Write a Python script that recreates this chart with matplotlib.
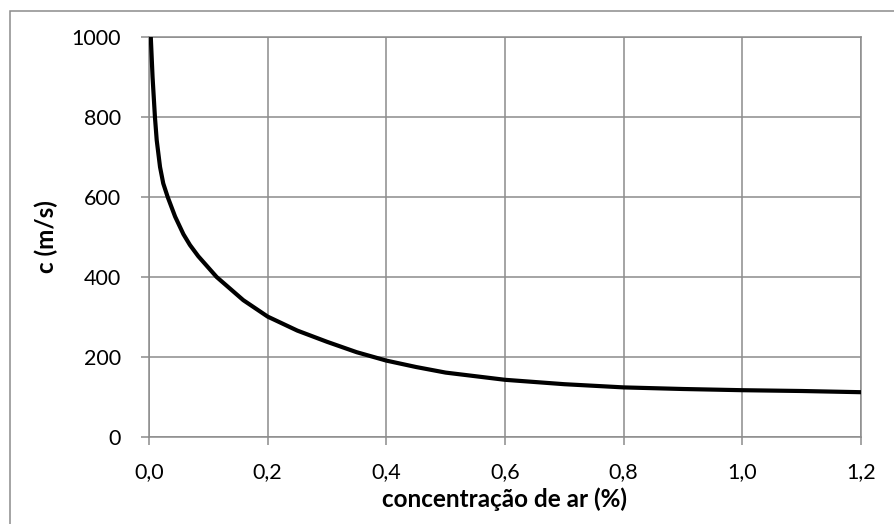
import matplotlib
matplotlib.use("Agg")
import matplotlib.pyplot as plt
from matplotlib.patches import Rectangle
from matplotlib.ticker import FuncFormatter

# air concentration (%) and pressure wave speed (m/s)
ar = [0.003, 0.006, 0.010, 0.013, 0.0186, 0.024, 0.0315, 0.044, 0.058, 0.069,
      0.083, 0.114, 0.159, 0.2, 0.25, 0.3, 0.35, 0.4, 0.45, 0.5,
      0.6, 0.7, 0.8, 0.9, 1.0, 1.1, 1.2]
c = [1000, 900, 800, 742, 675, 634, 600, 551, 507, 480,
     452, 400, 342, 301, 266, 238, 212, 191, 175, 161,
     143, 132, 124, 120, 117, 115, 112]

xticks = [0.0, 0.2, 0.4, 0.6, 0.8, 1.0, 1.2]
yticks = [0, 200, 400, 600, 800, 1000]

plt.rcParams["font.family"] = ["Lato", "DejaVu Sans"]

W, H = 894, 524
fig = plt.figure(figsize=(W / 100, H / 100), dpi=100)
ax = fig.add_axes([149 / W, 1 - 437 / H, (861 - 149) / W, (437 - 37) / H])

grey = "#8c8c8c"
ax.plot(ar, c, color="black", linewidth=3, solid_joinstyle="round", zorder=3)

ax.set_xlim(0, 1.2)
ax.set_ylim(0, 1000)
ax.set_xticks(xticks)
ax.set_yticks(yticks)
ax.xaxis.set_major_formatter(FuncFormatter(lambda v, p: f"{v:.1f}".replace(".", ",")))
ax.grid(True, color=grey, linewidth=1.1)
ax.set_axisbelow(True)
for s in ax.spines.values():
    s.set_color(grey)
    s.set_linewidth(1.1)
ax.tick_params(axis="both", colors=grey, length=6, width=1.1, labelcolor="black",
               labelsize=15.5)
ax.tick_params(axis="x", pad=12)
ax.tick_params(axis="y", pad=14)

ax.set_xlabel("concentração de ar (%)", fontsize=17.5, fontweight="bold", labelpad=4)
ax.set_ylabel("c (m/s)", fontsize=17.5, fontweight="bold", labelpad=10)

# chart border
fig.patches.append(Rectangle((9.5 / W, -0.1), 1.2, 1 - 10.5 / H + 0.1,
                             transform=fig.transFigure, fill=False,
                             edgecolor=grey, linewidth=1.1))

fig.savefig("out.png", dpi=100)
